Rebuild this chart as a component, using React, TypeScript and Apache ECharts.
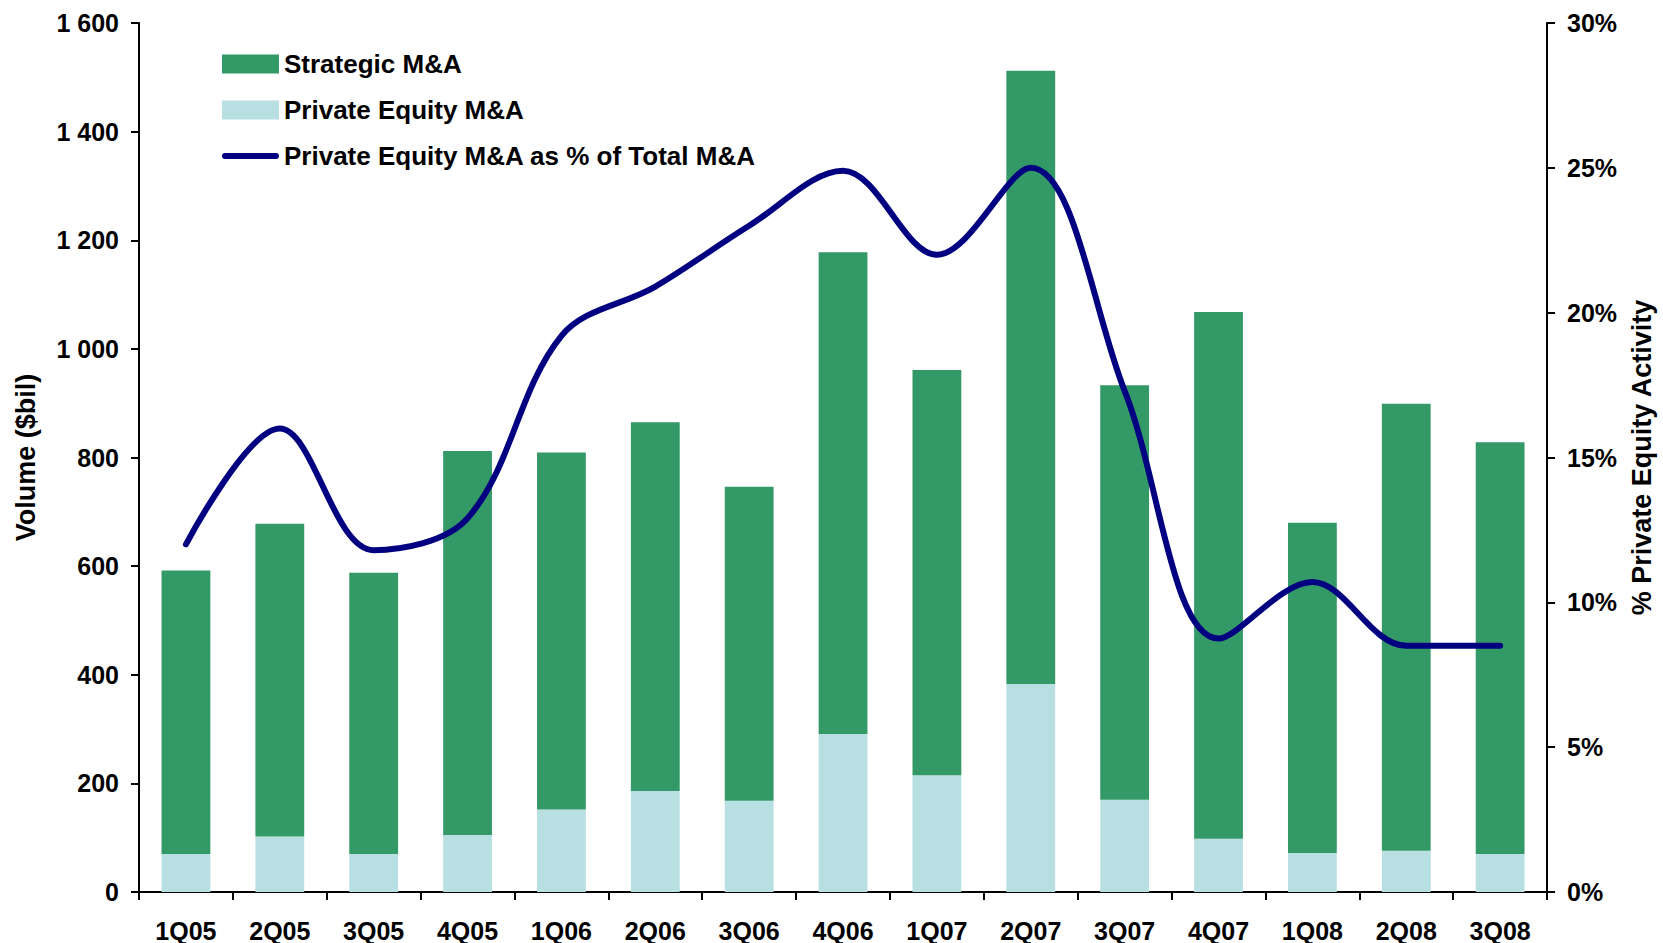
import React, { useEffect, useRef } from "react";
import * as echarts from "echarts";

const quarters = ["1Q05", "2Q05", "3Q05", "4Q05", "1Q06", "2Q06", "3Q06", "4Q06", "1Q07", "2Q07", "3Q07", "4Q07", "1Q08", "2Q08", "3Q08"];
const privateEquityMA = [70, 102, 70, 105, 152, 186, 168, 291, 215, 383, 170, 98, 72, 76, 70];
const strategicMA = [522, 576, 518, 707, 657, 679, 578, 887, 746, 1129, 763, 970, 608, 823, 758];
const pePercentOfTotal = [12.0, 16.0, 11.8, 12.9, 19.2, 20.9, 23.0, 24.9, 22.0, 25.0, 17.3, 8.75, 10.7, 8.5, 8.5];

const FONT = "'Liberation Sans', Arial, sans-serif";

export default function App() {
  const ref = useRef<HTMLDivElement>(null);
  useEffect(() => {
    if (!ref.current) return;
    const chart = echarts.init(ref.current, null, { renderer: "svg" });
    const axisText = { color: "#000", fontFamily: FONT, fontWeight: "bold" as const, fontSize: 25 };
    chart.setOption({
      animation: false,
      backgroundColor: "#fff",
      grid: { left: 139, right: 109, top: 23, bottom: 51, containLabel: false },
      legend: {
        orient: "vertical",
        left: 217,
        top: 46,
        itemWidth: 57,
        itemHeight: 19,
        itemGap: 20,
        textStyle: { color: "#000", fontFamily: FONT, fontWeight: "bold", fontSize: 26 },
        data: [
          { name: "Strategic M&A", icon: "rect" },
          { name: "Private Equity M&A", icon: "rect" },
          {
            name: "Private Equity M&A as % of Total M&A",
            icon: "path://M3,0 L54,0 A3,3 0 0 1 54,6 L3,6 A3,3 0 0 1 3,0 Z",
          },
        ],
      },
      xAxis: {
        type: "category",
        data: quarters,
        axisLine: { lineStyle: { color: "#000", width: 2 } },
        axisTick: { show: true, length: 8, lineStyle: { color: "#000", width: 2 } },
        axisLabel: { ...axisText, margin: 26, interval: 0 },
      },
      yAxis: [
        {
          type: "value",
          min: 0,
          max: 1600,
          interval: 200,
          name: "Volume ($bil)",
          nameLocation: "middle",
          nameGap: 100,
          nameTextStyle: { ...axisText, fontSize: 27 },
          splitLine: { show: false },
          axisLine: { show: true, lineStyle: { color: "#000", width: 2 } },
          axisTick: { show: true, length: 8, lineStyle: { color: "#000", width: 2 } },
          axisLabel: {
            ...axisText,
            margin: 20,
            formatter: (v: number) => (v >= 1000 ? `${Math.floor(v / 1000)} ${String(v % 1000).padStart(3, "0")}` : String(v)),
          },
        },
        {
          type: "value",
          min: 0,
          max: 30,
          interval: 5,
          position: "right",
          name: "% Private Equity Activity",
          nameLocation: "middle",
          nameGap: 80,
          nameTextStyle: { ...axisText, fontSize: 27 },
          splitLine: { show: false },
          axisLine: { show: true, lineStyle: { color: "#000", width: 2 } },
          axisTick: { show: true, length: 8, lineStyle: { color: "#000", width: 2 } },
          axisLabel: { ...axisText, margin: 20, formatter: "{value}%" },
        },
      ],
      series: [
        {
          name: "Private Equity M&A",
          type: "bar",
          stack: "total",
          barWidth: "52%",
          itemStyle: { color: "#B8E0E3" },
          data: privateEquityMA,
        },
        {
          name: "Strategic M&A",
          type: "bar",
          stack: "total",
          barWidth: "52%",
          itemStyle: { color: "#339966" },
          data: strategicMA,
        },
        {
          name: "Private Equity M&A as % of Total M&A",
          type: "line",
          yAxisIndex: 1,
          smooth: 0.35,
          symbol: "none",
          lineStyle: { color: "#000080", width: 6, cap: "round", join: "round" },
          itemStyle: { color: "#000080" },
          data: pePercentOfTotal,
        },
      ],
    });
    return () => chart.dispose();
  }, []);
  return <div ref={ref} style={{ position: "absolute", left: 0, top: 0, width: 1663, height: 943 }} />;
}
